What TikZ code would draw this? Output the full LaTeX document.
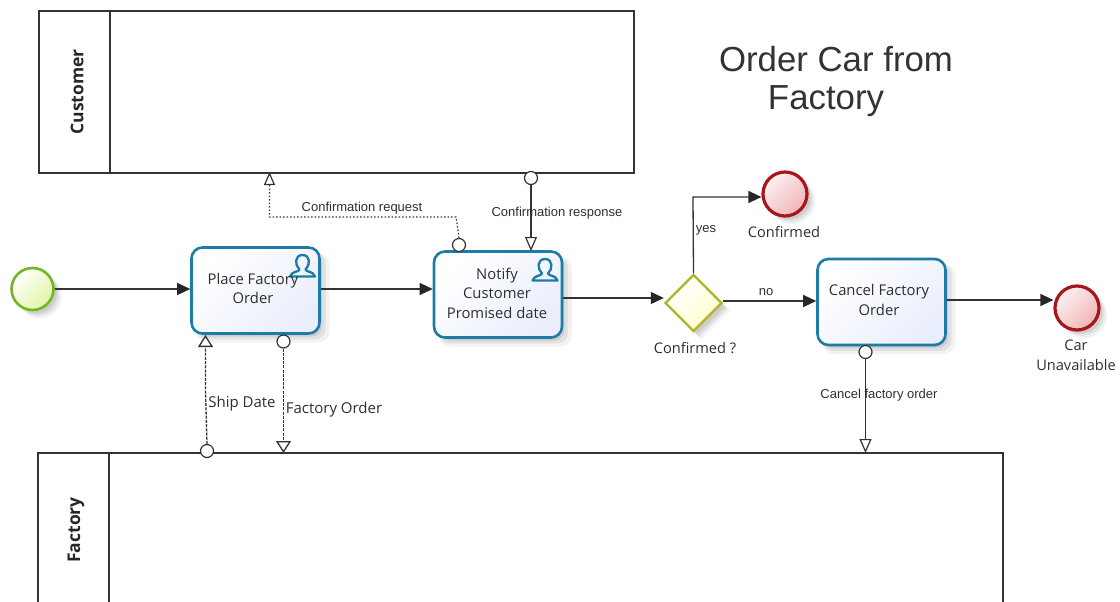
\documentclass[tikz,border=0pt]{standalone}
\usepackage{fontspec}
\setmainfont{Open Sans}
\newfontfamily\arialf{Liberation Sans}
\usetikzlibrary{arrows.meta,shapes.geometric,shadows,calc}
\definecolor{taskblue}{HTML}{1C7CA6}
\definecolor{lineblack}{HTML}{333333}
\definecolor{inkgray}{HTML}{2E2E2E}
\definecolor{endred}{HTML}{A8151B}
\definecolor{startgreen}{HTML}{73B52A}
\definecolor{gateolive}{HTML}{B3B32B}
\definecolor{HLtask}{HTML}{EAEEFC}
\definecolor{HLgreen}{HTML}{E0F5A6}
\definecolor{HLpinkl}{HTML}{FCF2F2}
\definecolor{HLpink}{HTML}{EFB4B6}
\definecolor{HLyellow}{HTML}{FFFFD0}
\tikzset{
  softshadow/.style={
    general shadow={shadow xshift=7pt,shadow yshift=-7pt,shadow scale=1.04,fill=black,opacity=.05},
    general shadow={shadow xshift=5.5pt,shadow yshift=-5.5pt,shadow scale=1.01,fill=black,opacity=.07},
    general shadow={shadow xshift=4pt,shadow yshift=-4pt,shadow scale=.98,fill=black,opacity=.09}},
  task/.style={draw=taskblue,line width=2.6pt,rounded corners=11pt,minimum width=128pt,minimum height=86pt,inner sep=0pt,
    shade,left color=white,right color=HLtask,shading angle=45,softshadow},
  tasktext/.style={align=center,text=inkgray,font=\fontsize{14.8}{19.5}\selectfont,inner sep=0pt},
  evlabel/.style={align=center,text=inkgray,font=\fontsize{14.6}{20}\selectfont,inner sep=0pt},
  flowlabel/.style={text=inkgray,font=\arialf\fontsize{13}{14}\selectfont,inner sep=0pt},
  msglabel/.style={text=inkgray,font=\fontsize{15}{16}\selectfont,inner sep=0pt},
  startev/.style={circle,draw=startgreen,line width=2.6pt,minimum size=42pt,inner sep=0pt,
    shade,left color=white,right color=HLgreen,shading angle=45,softshadow},
  endev/.style={circle,draw=endred,line width=3.2pt,minimum size=44pt,inner sep=0pt,
    shade,left color=HLpinkl,right color=HLpink,shading angle=45,softshadow},
  gateway/.style={diamond,aspect=1,draw=gateolive,line width=2.4pt,minimum size=57pt,inner sep=0pt,
    shade,left color=white,right color=HLyellow,shading angle=45,softshadow},
  pool/.style={draw=lineblack,line width=1.2pt},
  poollabel/.style={rotate=90,font=\bfseries\fontsize{17.5}{19}\selectfont,text=black!85,inner sep=0pt},
  titletext/.style={anchor=base,font=\arialf\fontsize{34.8}{38}\selectfont,text=black!80,inner sep=0pt},
  seqflow/.style={draw=lineblack,line width=1.3pt,-{Triangle[length=13pt,width=12pt,fill=black!85,color=black!85]}},
  msgflow/.style={draw=lineblack,line width=1.2pt,-{Triangle[open,length=14pt,width=12pt,fill=white]}},
  msgwide/.style={draw=lineblack,line width=1.3pt,dash pattern=on 3pt off 1.2pt,-{Triangle[open,length=12pt,width=15pt,fill=white]}},
  msgdot/.style={draw=lineblack,line width=1.2pt,dash pattern=on 1.5pt off 2pt,-{Triangle[open,length=13pt,width=11pt,fill=white]}},
  msgstart/.style={circle,draw=lineblack,line width=1.2pt,fill=white,minimum size=13pt,inner sep=0pt},
  pics/usericon/.style={code={
    \draw[taskblue,line width=2.3pt,line join=round]
      (-3,6.5) .. controls (-8,2) and (-8,-8) .. (0,-8)
      .. controls (8,-8) and (8,2) .. (3,6.5)
      .. controls (3,9) and (11,8) .. (12.5,13.5)
      -- (-12.5,13.5)
      .. controls (-11,8) and (-3,9) .. (-3,6.5) -- cycle;
  }},
}
\begin{document}
\begin{tikzpicture}[x=1pt,y=-1pt]
\useasboundingbox (0,0) rectangle (1120,602);
% pools
\node[pool,minimum width=595pt,minimum height=162pt,inner sep=0pt] (customer) at (336.5,92) {};
\coordinate (custdiv) at (110,11);
\draw[pool] (custdiv) -- (custdiv |- customer.south);
\node[poollabel] (customerl) at (77,92) {Customer};
\coordinate (facA) at (38,602);
\coordinate (facB) at (38,453);
\coordinate (facC) at (1003,453);
\coordinate (facD) at (1003,602);
\coordinate (facdiv) at (109,453);
\draw[pool] (facA) -- (facB) -- (facC) -- (facD);
\draw[pool] (facdiv) -- (facdiv |- facA);
\node[poollabel] (factoryl) at (76,530) {Factory};
% title
\node[titletext] (title1) at (836,72) {Order Car from};
\node[titletext] (title2) at (826,110) {Factory};
% events and tasks
\node[startev] (start) at (32.5,289) {};
\node[task] (t1) at (255.5,290.5) {};
\node[task] (t2) at (498,294.5) {};
\node[task] (t3) at (881.5,302) {};
\node[gateway] (gw) at (693.5,303) {};
\node[endev] (e1) at (785,194) {};
\node[endev] (e2) at (1077,308) {};
\pic at (302.5,263) {usericon};
\pic at (545,267) {usericon};
\node[tasktext] (t1l) at (253,288.5) {Place Factory\\Order};
\node[tasktext] (t2l) at (497,293) {Notify\\Customer\\Promised date};
\node[tasktext] (t3l) at (879,300) {Cancel Factory\\Order};
\node[evlabel] (gwl) at (695,348) {Confirmed ?};
\node[evlabel] (e1l) at (784,232) {Confirmed};
\node[evlabel] (e2l) at (1076,355) {Car\\Unavailable};
% sequence flows
\draw[seqflow] (start.east) -- (start.east -| t1.west);
\draw[seqflow] ([yshift=1.5pt]t1.east) -- ([yshift=1.5pt]t1.east -| t2.west);
\draw[seqflow] ([yshift=-3.5pt]t2.east) -- ([yshift=-3.5pt]t2.east -| gw.west);
\coordinate (yesbend) at (693,197);
\draw[seqflow] (gw.north) -- (yesbend) -- (yesbend -| e1.west);
\draw[seqflow] ([yshift=2pt]gw.east) -- ([yshift=2pt]gw.east -| t3.west);
\draw[seqflow] ([yshift=2pt]t3.east) -- ([yshift=2pt]t3.east -| e2.west);
\node[flowlabel] (yesl) at (706,230) {yes};
\node[flowlabel] (nol) at (766,292) {no};
% message flows
\node[msgstart] (m1) at (459,245) {};
\coordinate (m1a) at (456,217);
\coordinate (m1b) at (269.5,217);
\coordinate (m1c) at (269.5,172);
\draw[msgdot] (m1.north) -- (m1a) -- (m1b) -- (m1c);
\node[flowlabel] (m1l) at (362,208) {Confirmation request};
\node[msgstart] (m2) at (531,178) {};
\coordinate (m2a) at (531,251);
\draw[msgflow] (m2.south) -- (m2a);
\node[flowlabel] (m2l) at (557,213.5) {Confirmation response};
\node[msgstart] (m3) at (207,451) {};
\coordinate (m3a) at (205.5,391);
\coordinate (m3b) at (205.5,335);
\draw[msgwide] (m3.north) -- (m3a) -- (m3b);
\node[msglabel] (m3l) at (242,404) {Ship Date};
\node[msgstart] (m4) at (283.5,341.5) {};
\coordinate (m4a) at (283.5,453);
\draw[msgwide] (m4.south) -- (m4a);
\node[msglabel] (m4l) at (334,410) {Factory Order};
\node[msgstart] (m5) at (865.5,352) {};
\coordinate (m5a) at (865.5,453);
\draw[msgflow] (m5.south) -- (m5a);
\node[flowlabel] (m5l) at (879,395.5) {Cancel factory order};
\end{tikzpicture}
\end{document}
